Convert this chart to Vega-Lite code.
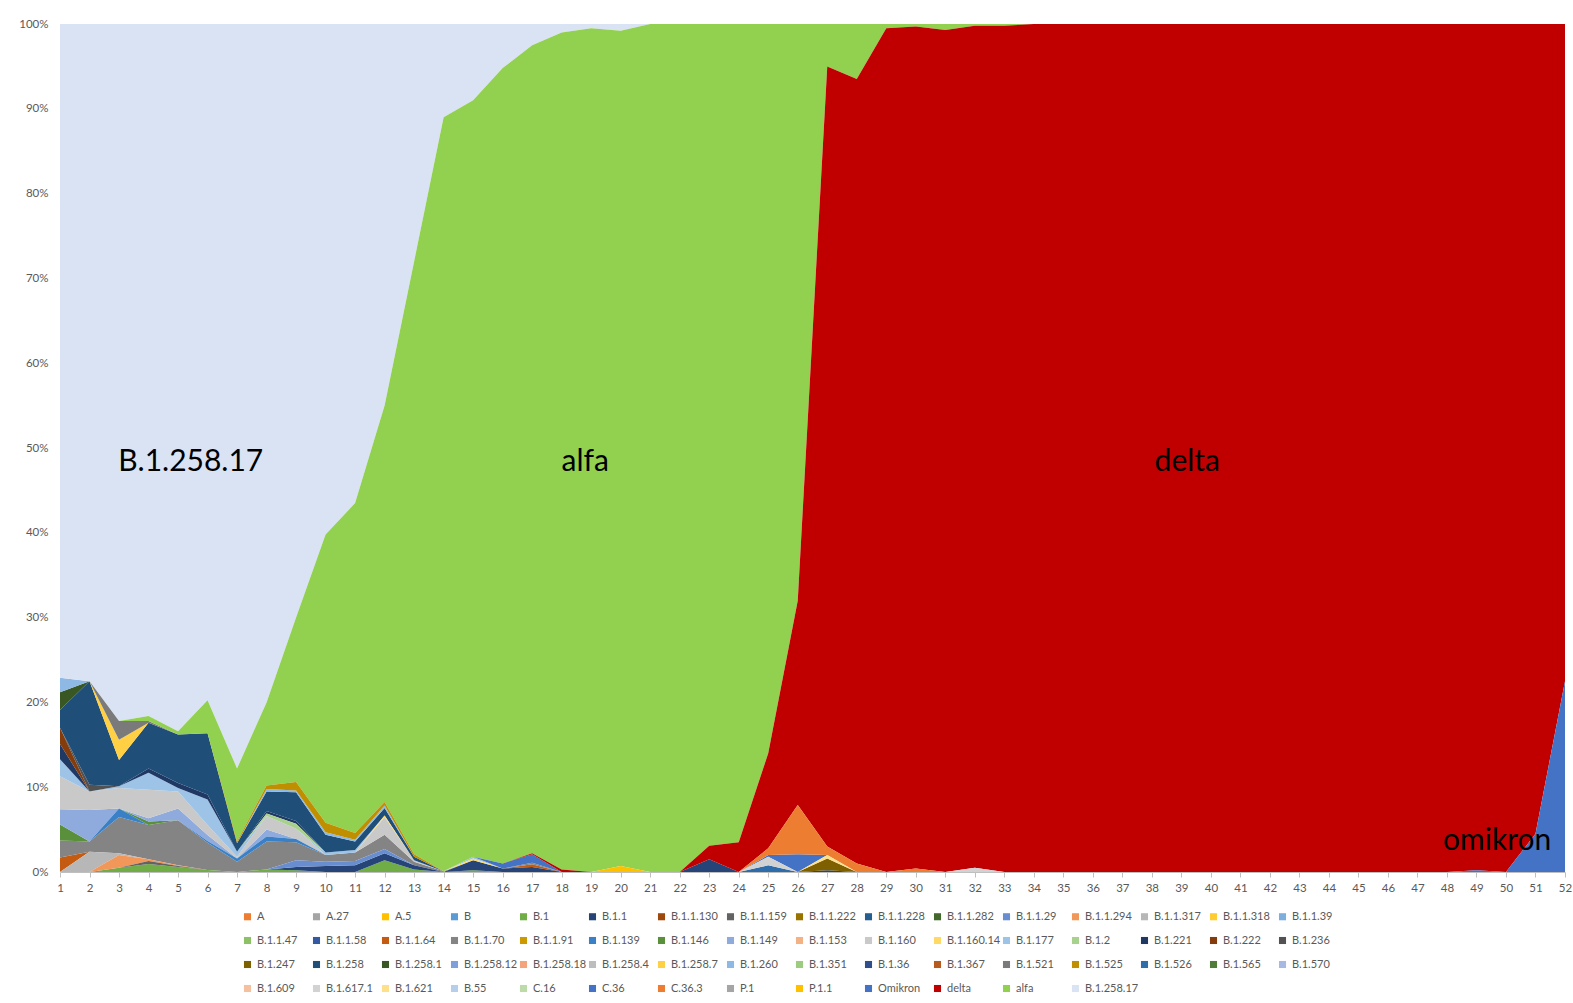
{
  "$schema": "https://vega.github.io/schema/vega-lite/v6.json",
  "width": 1505,
  "height": 848,
  "autosize": {"type": "none"},
  "padding": {"left": 60, "top": 24, "right": 8, "bottom": 131},
  "background": "white",
  "config": {
    "view": {"stroke": null},
    "font": "Lato",
    "axis": {"labelFont": "Lato", "labelFontSize": 11.5, "labelColor": "#595959", "grid": false, "title": null, "labelOverlap": false},
    "axisX": {"labelOverlap": false, "labelFlush": false}
  },
  "datasets": {
    "series": [
      {"l":"A","idx":1},{"l":"A.27","idx":2},{"l":"A.5","idx":3},{"l":"B","idx":4},{"l":"B.1","idx":5},{"l":"B.1.1","idx":6},{"l":"B.1.1.130","idx":7},{"l":"B.1.1.159","idx":8},{"l":"B.1.1.222","idx":9},{"l":"B.1.1.228","idx":10},{"l":"B.1.1.282","idx":11},{"l":"B.1.1.29","idx":12},{"l":"B.1.1.294","idx":13},{"l":"B.1.1.317","idx":14},{"l":"B.1.1.318","idx":15},{"l":"B.1.1.39","idx":16},
      {"l":"B.1.1.47","idx":17},{"l":"B.1.1.58","idx":18},{"l":"B.1.1.64","idx":19},{"l":"B.1.1.70","idx":20},{"l":"B.1.1.91","idx":21},{"l":"B.1.139","idx":22},{"l":"B.1.146","idx":23},{"l":"B.1.149","idx":24},{"l":"B.1.153","idx":25},{"l":"B.1.160","idx":26},{"l":"B.1.160.14","idx":27},{"l":"B.1.177","idx":28},{"l":"B.1.2","idx":29},{"l":"B.1.221","idx":30},{"l":"B.1.222","idx":31},{"l":"B.1.236","idx":32},
      {"l":"B.1.247","idx":33},{"l":"B.1.258","idx":34},{"l":"B.1.258.1","idx":35},{"l":"B.1.258.12","idx":36},{"l":"B.1.258.18","idx":37},{"l":"B.1.258.4","idx":38},{"l":"B.1.258.7","idx":39},{"l":"B.1.260","idx":40},{"l":"B.1.351","idx":41},{"l":"B.1.36","idx":42},{"l":"B.1.367","idx":43},{"l":"B.1.521","idx":44},{"l":"B.1.525","idx":45},{"l":"B.1.526","idx":46},{"l":"B.1.565","idx":47},{"l":"B.1.570","idx":48},
      {"l":"B.1.609","idx":49},{"l":"B.1.617.1","idx":50},{"l":"B.1.621","idx":51},{"l":"B.55","idx":52},{"l":"C.16","idx":53},{"l":"C.36","idx":54},{"l":"C.36.3","idx":55},{"l":"P.1","idx":56},{"l":"P.1.1","idx":57},{"l":"Omikron","idx":58},{"l":"delta","idx":59},{"l":"alfa","idx":60},{"l":"B.1.258.17","idx":61}
    ],
    "shares": [
      {"w":1,"l":"B.1.1.64","v":1.7},{"w":1,"l":"B.1.1.70","v":2.0},{"w":1,"l":"B.1.146","v":1.9},{"w":1,"l":"B.1.149","v":1.8},{"w":1,"l":"B.1.160","v":3.9},{"w":1,"l":"B.1.177","v":2.0},{"w":1,"l":"B.1.221","v":1.8},{"w":1,"l":"B.1.222","v":1.9},{"w":1,"l":"B.1.258","v":2.1},{"w":1,"l":"B.1.258.1","v":2.1},{"w":1,"l":"B.1.260","v":1.7},{"w":1,"l":"B.1.258.17","v":77.1},
      {"w":2,"l":"B.1.1.317","v":2.4},{"w":2,"l":"B.1.1.70","v":1.2},{"w":2,"l":"B.1.149","v":3.7},{"w":2,"l":"B.1.160","v":2.2},{"w":2,"l":"B.1.236","v":0.8},{"w":2,"l":"B.1.258","v":12.2},{"w":2,"l":"B.1.258.17","v":77.5},
      {"w":3,"l":"B.1","v":0.5},{"w":3,"l":"B.1.1.294","v":1.5},{"w":3,"l":"B.1.1.317","v":0.2},{"w":3,"l":"B.1.1.70","v":4.3},{"w":3,"l":"B.1.139","v":1.0},{"w":3,"l":"B.1.160","v":2.4},{"w":3,"l":"B.1.177","v":0.2},{"w":3,"l":"B.1.258","v":3.1},{"w":3,"l":"B.1.258.7","v":2.4},{"w":3,"l":"B.1.521","v":2.2},{"w":3,"l":"B.1.258.17","v":82.2},
      {"w":4,"l":"B.1","v":0.95},{"w":4,"l":"B.1.1.159","v":0.35},{"w":4,"l":"B.1.1.294","v":0.2},{"w":4,"l":"B.1.1.70","v":4.05},{"w":4,"l":"B.1.146","v":0.4},{"w":4,"l":"B.1.149","v":0.4},{"w":4,"l":"B.1.160","v":3.35},{"w":4,"l":"B.1.177","v":2.0},{"w":4,"l":"B.1.221","v":0.5},{"w":4,"l":"B.1.258","v":5.4},{"w":4,"l":"B.1.521","v":0.2},{"w":4,"l":"alfa","v":0.6},{"w":4,"l":"B.1.258.17","v":81.6},
      {"w":5,"l":"B.1","v":0.6},{"w":5,"l":"B.1.1.159","v":0.1},{"w":5,"l":"B.1.1.294","v":0.1},{"w":5,"l":"B.1.1.70","v":5.3},{"w":5,"l":"B.1.149","v":1.4},{"w":5,"l":"B.1.160","v":2.0},{"w":5,"l":"B.1.177","v":0.4},{"w":5,"l":"B.1.221","v":0.6},{"w":5,"l":"B.1.258","v":5.7},{"w":5,"l":"alfa","v":0.4},{"w":5,"l":"B.1.258.17","v":83.4},
      {"w":6,"l":"B.1","v":0.25},{"w":6,"l":"B.1.1.70","v":3.2},{"w":6,"l":"B.1.139","v":0.2},{"w":6,"l":"B.1.149","v":0.7},{"w":6,"l":"B.1.160","v":1.2},{"w":6,"l":"B.1.177","v":3.0},{"w":6,"l":"B.1.221","v":0.6},{"w":6,"l":"B.1.258","v":7.2},{"w":6,"l":"alfa","v":3.9},{"w":6,"l":"B.1.258.17","v":79.75},
      {"w":7,"l":"B.1.1.70","v":1.2},{"w":7,"l":"B.1.139","v":0.4},{"w":7,"l":"B.1.160","v":0.2},{"w":7,"l":"B.1.177","v":0.6},{"w":7,"l":"B.1.258","v":1.0},{"w":7,"l":"B.1.525","v":0.2},{"w":7,"l":"alfa","v":8.6},{"w":7,"l":"B.1.258.17","v":87.8},
      {"w":8,"l":"B.1","v":0.3},{"w":8,"l":"B.1.1.70","v":3.3},{"w":8,"l":"B.1.139","v":0.6},{"w":8,"l":"B.1.149","v":0.8},{"w":8,"l":"B.1.160","v":1.6},{"w":8,"l":"B.1.2","v":0.3},{"w":8,"l":"B.1.221","v":0.3},{"w":8,"l":"B.1.258","v":2.3},{"w":8,"l":"B.1.260","v":0.3},{"w":8,"l":"B.1.525","v":0.4},{"w":8,"l":"alfa","v":9.8},{"w":8,"l":"B.1.258.17","v":80},
      {"w":9,"l":"B.1","v":0.2},{"w":9,"l":"B.1.1","v":0.4},{"w":9,"l":"B.1.1.29","v":0.8},{"w":9,"l":"B.1.1.70","v":2.1},{"w":9,"l":"B.1.139","v":0.4},{"w":9,"l":"B.1.160","v":1.2},{"w":9,"l":"B.1.2","v":0.6},{"w":9,"l":"B.1.221","v":0.3},{"w":9,"l":"B.1.258","v":3.4},{"w":9,"l":"B.1.260","v":0.2},{"w":9,"l":"B.1.525","v":1.0},{"w":9,"l":"alfa","v":19.4},{"w":9,"l":"B.1.258.17","v":70},
      {"w":10,"l":"B.1.1","v":0.7},{"w":10,"l":"B.1.1.29","v":0.5},{"w":10,"l":"B.1.1.70","v":0.8},{"w":10,"l":"B.1.177","v":0.3},{"w":10,"l":"B.1.258","v":2.1},{"w":10,"l":"B.1.260","v":0.3},{"w":10,"l":"B.1.525","v":1.1},{"w":10,"l":"alfa","v":34.0},{"w":10,"l":"B.1.258.17","v":60.2},
      {"w":11,"l":"B.1.1","v":0.8},{"w":11,"l":"B.1.1.29","v":0.5},{"w":11,"l":"B.1.1.70","v":1.0},{"w":11,"l":"B.1.177","v":0.3},{"w":11,"l":"B.1.258","v":1.0},{"w":11,"l":"B.1.260","v":0.2},{"w":11,"l":"B.1.525","v":0.8},{"w":11,"l":"alfa","v":38.9},{"w":11,"l":"B.1.258.17","v":56.5},
      {"w":12,"l":"B.1","v":1.4},{"w":12,"l":"B.1.1","v":0.8},{"w":12,"l":"B.1.1.29","v":0.5},{"w":12,"l":"B.1.1.70","v":1.7},{"w":12,"l":"B.1.160","v":2.1},{"w":12,"l":"B.1.160.14","v":0.15},{"w":12,"l":"B.1.258","v":0.9},{"w":12,"l":"B.1.260","v":0.3},{"w":12,"l":"B.1.525","v":0.4},{"w":12,"l":"alfa","v":46.75},{"w":12,"l":"B.1.258.17","v":45},
      {"w":13,"l":"B.1","v":0.3},{"w":13,"l":"B.1.1","v":0.5},{"w":13,"l":"B.1.1.70","v":0.4},{"w":13,"l":"B.1.160","v":0.2},{"w":13,"l":"B.1.258","v":0.4},{"w":13,"l":"B.1.525","v":0.3},{"w":13,"l":"alfa","v":69.9},{"w":13,"l":"B.1.258.17","v":28},
      {"w":14,"l":"B.1.1.70","v":0.1},{"w":14,"l":"alfa","v":88.9},{"w":14,"l":"B.1.258.17","v":11},
      {"w":15,"l":"B.1","v":0.2},{"w":15,"l":"B.1.1","v":1.2},{"w":15,"l":"B.1.160.14","v":0.2},{"w":15,"l":"B.1.177","v":0.2},{"w":15,"l":"alfa","v":89.2},{"w":15,"l":"B.1.258.17","v":9},
      {"w":16,"l":"B.1.1","v":0.4},{"w":16,"l":"C.36","v":0.6},{"w":16,"l":"alfa","v":93.8},{"w":16,"l":"B.1.258.17","v":5.2},
      {"w":17,"l":"B.1.1","v":0.6},{"w":17,"l":"B.1.1.64","v":0.3},{"w":17,"l":"B.1.1.70","v":0.2},{"w":17,"l":"C.36","v":1.0},{"w":17,"l":"delta","v":0.1},{"w":17,"l":"alfa","v":95.3},{"w":17,"l":"B.1.258.17","v":2.5},
      {"w":18,"l":"delta","v":0.3},{"w":18,"l":"alfa","v":98.7},{"w":18,"l":"B.1.258.17","v":1.0},
      {"w":19,"l":"alfa","v":99.5},{"w":19,"l":"B.1.258.17","v":0.5},
      {"w":20,"l":"P.1.1","v":0.7},{"w":20,"l":"alfa","v":98.5},{"w":20,"l":"B.1.258.17","v":0.8},
      {"w":21,"l":"alfa","v":100},
      {"w":22,"l":"alfa","v":100},
      {"w":23,"l":"B.1.1","v":1.5},{"w":23,"l":"delta","v":1.6},{"w":23,"l":"alfa","v":96.9},
      {"w":24,"l":"delta","v":3.5},{"w":24,"l":"alfa","v":96.5},
      {"w":25,"l":"B.1.526","v":0.8},{"w":25,"l":"B.1.617.1","v":1.0},{"w":25,"l":"C.36","v":0.2},{"w":25,"l":"C.36.3","v":0.8},{"w":25,"l":"delta","v":11.2},{"w":25,"l":"alfa","v":86.0},
      {"w":26,"l":"C.36","v":2.1},{"w":26,"l":"C.36.3","v":5.8},{"w":26,"l":"delta","v":24.1},{"w":26,"l":"alfa","v":68.0},
      {"w":27,"l":"B.1.1","v":0.2},{"w":27,"l":"B.1.247","v":1.4},{"w":27,"l":"B.1.621","v":0.4},{"w":27,"l":"C.36.3","v":1.0},{"w":27,"l":"delta","v":92.0},{"w":27,"l":"alfa","v":5.0},
      {"w":28,"l":"C.36.3","v":1.0},{"w":28,"l":"delta","v":92.5},{"w":28,"l":"alfa","v":6.5},
      {"w":29,"l":"delta","v":99.5},{"w":29,"l":"alfa","v":0.5},
      {"w":30,"l":"C.36.3","v":0.4},{"w":30,"l":"delta","v":99.3},{"w":30,"l":"alfa","v":0.3},
      {"w":31,"l":"delta","v":99.3},{"w":31,"l":"alfa","v":0.7},
      {"w":32,"l":"B.1.617.1","v":0.5},{"w":32,"l":"delta","v":99.3},{"w":32,"l":"alfa","v":0.2},
      {"w":33,"l":"delta","v":99.8},{"w":33,"l":"alfa","v":0.2},
      {"w":34,"l":"delta","v":100},{"w":35,"l":"delta","v":100},{"w":36,"l":"delta","v":100},{"w":37,"l":"delta","v":100},{"w":38,"l":"delta","v":100},{"w":39,"l":"delta","v":100},{"w":40,"l":"delta","v":100},{"w":41,"l":"delta","v":100},{"w":42,"l":"delta","v":100},{"w":43,"l":"delta","v":100},{"w":44,"l":"delta","v":100},{"w":45,"l":"delta","v":100},{"w":46,"l":"delta","v":100},{"w":47,"l":"delta","v":100},{"w":48,"l":"delta","v":100},
      {"w":49,"l":"Omikron","v":0.2},{"w":49,"l":"delta","v":99.8},
      {"w":50,"l":"delta","v":100},
      {"w":51,"l":"Omikron","v":4.5},{"w":51,"l":"delta","v":95.5},
      {"w":52,"l":"Omikron","v":22.5},{"w":52,"l":"delta","v":77.5}
    ],
    "labels": [
      {"w":5.43,"p":0.483,"t":"B.1.258.17"},
      {"w":18.8,"p":0.483,"t":"alfa"},
      {"w":39.2,"p":0.483,"t":"delta"},
      {"w":49.7,"p":0.037,"t":"omikron"}
    ]
  },
  "layer": [
    {
      "data": {"name": "shares"},
      "transform": [
        {"lookup": "l", "from": {"data": {"name": "series"}, "key": "l", "fields": ["idx"]}}
      ],
      "mark": {"type": "area", "interpolate": "linear"},
      "encoding": {
        "x": {
          "field": "w", "type": "quantitative",
          "scale": {"domain": [1, 52], "nice": false, "zero": false},
          "axis": {
            "values": [1,2,3,4,5,6,7,8,9,10,11,12,13,14,15,16,17,18,19,20,21,22,23,24,25,26,27,28,29,30,31,32,33,34,35,36,37,38,39,40,41,42,43,44,45,46,47,48,49,50,51,52],
            "format": "d", "labelFlush": false, "labelOverlap": false, "labelBound": false,
            "tickColor": "#BFBFBF", "domainColor": "#BFBFBF", "tickSize": 5, "labelPadding": 5
          }
        },
        "y": {
          "field": "v", "type": "quantitative", "stack": "normalize",
          "scale": {"domain": [0, 1], "nice": false},
          "axis": {
            "values": [0,0.1,0.2,0.3,0.4,0.5,0.6,0.7,0.8,0.9,1],
            "format": ".0%", "domain": false, "ticks": false, "tickSize": 0,
            "labelPadding": 12, "labelFlush": false, "labelOverlap": false
          }
        },
        "color": {
          "field": "l", "type": "nominal",
          "scale": {
            "domain": ["A","A.27","A.5","B","B.1","B.1.1","B.1.1.130","B.1.1.159","B.1.1.222","B.1.1.228","B.1.1.282","B.1.1.29","B.1.1.294","B.1.1.317","B.1.1.318","B.1.1.39","B.1.1.47","B.1.1.58","B.1.1.64","B.1.1.70","B.1.1.91","B.1.139","B.1.146","B.1.149","B.1.153","B.1.160","B.1.160.14","B.1.177","B.1.2","B.1.221","B.1.222","B.1.236","B.1.247","B.1.258","B.1.258.1","B.1.258.12","B.1.258.18","B.1.258.4","B.1.258.7","B.1.260","B.1.351","B.1.36","B.1.367","B.1.521","B.1.525","B.1.526","B.1.565","B.1.570","B.1.609","B.1.617.1","B.1.621","B.55","C.16","C.36","C.36.3","P.1","P.1.1","Omikron","delta","alfa","B.1.258.17"],
            "range": ["#ED7D31","#A5A5A5","#FFC000","#5B9BD5","#70AD47","#264478","#9E480E","#636363","#997300","#255E91","#43682B","#698ED0","#F1975A","#B7B7B7","#FFCD33","#7CAFDD","#8CC168","#335AA1","#C55A11","#848484","#CC9A00","#3A80C6","#5A8F3B","#8FAADC","#F4B183","#C9C9C9","#FFD966","#9DC3E6","#A9D18E","#203864","#843C0C","#525252","#7F6000","#1F4E79","#385723","#7F9FD9","#F3A47B","#BDBDBD","#FFD044","#8EB9E4","#9DCB80","#2E4E8C","#B65A1F","#7A7A7A","#BF8F00","#2E6DAA","#4F7D37","#A7B8E2","#F5C0A0","#D2D2D2","#FFE08A","#B6CEEA","#BCDBA8","#4472C4","#ED7D31","#A5A5A5","#FFC000","#4472C4","#C00000","#92D050","#DAE3F3"]
          },
          "legend": {
            "title": null, "orient": "none", "legendX": 182, "legendY": 887,
            "direction": "horizontal", "columns": 16, "gridAlign": "all",
            "symbolType": "square", "symbolSize": 50, "symbolStrokeWidth": 0, "symbolLimit": 100,
            "labelFont": "Lato", "labelFontSize": 11, "labelColor": "#595959",
            "labelOffset": 4, "columnPadding": 0, "rowPadding": 12, "padding": 0, "labelLimit": 200
          }
        },
        "detail": {"field": "idx", "type": "quantitative"},
        "order": {"field": "idx", "type": "quantitative", "sort": "ascending"}
      }
    },
    {
      "data": {"name": "labels"},
      "mark": {"type": "text", "font": "Lato", "fontSize": 30, "color": "black", "align": "center", "baseline": "middle"},
      "encoding": {
        "x": {
          "field": "w", "type": "quantitative",
          "axis": {
            "values": [1,2,3,4,5,6,7,8,9,10,11,12,13,14,15,16,17,18,19,20,21,22,23,24,25,26,27,28,29,30,31,32,33,34,35,36,37,38,39,40,41,42,43,44,45,46,47,48,49,50,51,52],
            "format": "d", "labelFlush": false, "labelOverlap": false, "labelBound": false,
            "tickColor": "#BFBFBF", "domainColor": "#BFBFBF", "tickSize": 5, "labelPadding": 5
          }
        },
        "y": {
          "field": "p", "type": "quantitative",
          "axis": {
            "values": [0,0.1,0.2,0.3,0.4,0.5,0.6,0.7,0.8,0.9,1],
            "format": ".0%", "domain": false, "ticks": false, "tickSize": 0,
            "labelPadding": 12, "labelFlush": false, "labelOverlap": false
          }
        },
        "text": {"field": "t"}
      }
    }
  ]
}
